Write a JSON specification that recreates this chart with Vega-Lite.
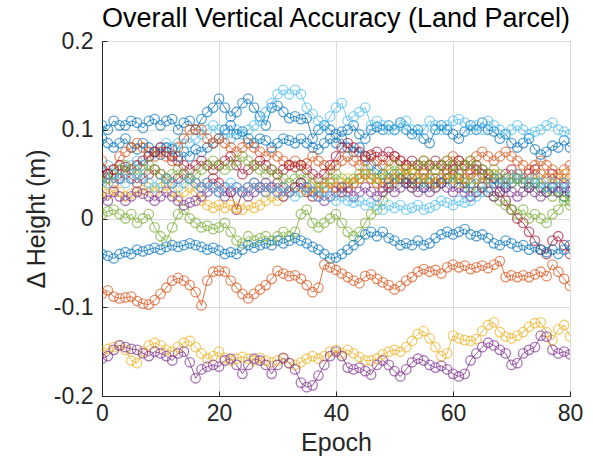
{
"$schema":"https://vega.github.io/schema/vega-lite/v6.json",
"width":468,"height":355,
"autosize":{"type":"none"},
"padding":{"left":102,"top":41,"right":23,"bottom":67},
"background":"white",
"title":{"text":"Overall Vertical Accuracy (Land Parcel)","fontSize":27,"font":"Liberation Sans","fontWeight":"normal","color":"#000000","offset":-3,"anchor":"middle"},
"config":{"view":{"stroke":"#262626","strokeWidth":1},
"axis":{"labelFont":"Liberation Sans","labelFontSize":23,"labelColor":"#262626","titleFont":"Liberation Sans","titleFontSize":25,"titleFontWeight":"normal","titleColor":"#262626","domainColor":"#262626","tickColor":"#262626","tickSize":-5,"gridColor":"#dcdcdc","gridWidth":1}},
"data":{"values":[
{"s":"B1","x":0,"y":0.105},{"s":"B1","x":1,"y":0.1},{"s":"B1","x":2,"y":0.11},{"s":"B1","x":3,"y":0.105},{"s":"B1","x":4,"y":0.105},{"s":"B1","x":5,"y":0.11},{"s":"B1","x":6,"y":0.108},{"s":"B1","x":7,"y":0.102},{"s":"B1","x":8,"y":0.11},{"s":"B1","x":9,"y":0.112},
{"s":"B1","x":10,"y":0.105},{"s":"B1","x":11,"y":0.11},{"s":"B1","x":12,"y":0.112},{"s":"B1","x":13,"y":0.1},{"s":"B1","x":14,"y":0.108},{"s":"B1","x":15,"y":0.11},{"s":"B1","x":16,"y":0.1},{"s":"B1","x":17,"y":0.112},{"s":"B1","x":18,"y":0.12},{"s":"B1","x":19,"y":0.125},
{"s":"B1","x":20,"y":0.135},{"s":"B1","x":21,"y":0.125},{"s":"B1","x":22,"y":0.115},{"s":"B1","x":23,"y":0.12},{"s":"B1","x":24,"y":0.13},{"s":"B1","x":25,"y":0.135},{"s":"B1","x":26,"y":0.125},{"s":"B1","x":27,"y":0.115},{"s":"B1","x":28,"y":0.105},{"s":"B1","x":29,"y":0.125},
{"s":"B1","x":30,"y":0.127},{"s":"B1","x":31,"y":0.12},{"s":"B1","x":32,"y":0.113},{"s":"B1","x":33,"y":0.115},{"s":"B1","x":34,"y":0.112},{"s":"B1","x":35,"y":0.113},{"s":"B1","x":36,"y":0.09},{"s":"B1","x":37,"y":0.1},{"s":"B1","x":38,"y":0.105},{"s":"B1","x":39,"y":0.1},
{"s":"B1","x":40,"y":0.095},{"s":"B1","x":41,"y":0.098},{"s":"B1","x":42,"y":0.1},{"s":"B1","x":43,"y":0.105},{"s":"B1","x":44,"y":0.095},{"s":"B1","x":45,"y":0.09},{"s":"B1","x":46,"y":0.1},{"s":"B1","x":47,"y":0.103},{"s":"B1","x":48,"y":0.1},{"s":"B1","x":49,"y":0.105},
{"s":"B1","x":50,"y":0.1},{"s":"B1","x":51,"y":0.108},{"s":"B1","x":52,"y":0.1},{"s":"B1","x":53,"y":0.095},{"s":"B1","x":54,"y":0.1},{"s":"B1","x":55,"y":0.09},{"s":"B1","x":56,"y":0.085},{"s":"B1","x":57,"y":0.1},{"s":"B1","x":58,"y":0.105},{"s":"B1","x":59,"y":0.1},
{"s":"B1","x":60,"y":0.095},{"s":"B1","x":61,"y":0.09},{"s":"B1","x":62,"y":0.098},{"s":"B1","x":63,"y":0.105},{"s":"B1","x":64,"y":0.1},{"s":"B1","x":65,"y":0.108},{"s":"B1","x":66,"y":0.1},{"s":"B1","x":67,"y":0.098},{"s":"B1","x":68,"y":0.09},{"s":"B1","x":69,"y":0.095},
{"s":"B1","x":70,"y":0.085},{"s":"B1","x":71,"y":0.08},{"s":"B1","x":72,"y":0.085},{"s":"B1","x":73,"y":0.09},{"s":"B1","x":74,"y":0.078},{"s":"B1","x":75,"y":0.072},{"s":"B1","x":76,"y":0.075},{"s":"B1","x":77,"y":0.082},{"s":"B1","x":78,"y":0.08},{"s":"B1","x":79,"y":0.088},{"s":"B1","x":80,"y":0.08},
{"s":"LB1","x":0,"y":0.055},{"s":"LB1","x":1,"y":0.06},{"s":"LB1","x":2,"y":0.05},{"s":"LB1","x":3,"y":0.045},{"s":"LB1","x":4,"y":0.055},{"s":"LB1","x":5,"y":0.06},{"s":"LB1","x":6,"y":0.065},{"s":"LB1","x":7,"y":0.06},{"s":"LB1","x":8,"y":0.07},{"s":"LB1","x":9,"y":0.075},
{"s":"LB1","x":10,"y":0.08},{"s":"LB1","x":11,"y":0.085},{"s":"LB1","x":12,"y":0.08},{"s":"LB1","x":13,"y":0.085},{"s":"LB1","x":14,"y":0.09},{"s":"LB1","x":15,"y":0.085},{"s":"LB1","x":16,"y":0.09},{"s":"LB1","x":17,"y":0.095},{"s":"LB1","x":18,"y":0.1},{"s":"LB1","x":19,"y":0.105},
{"s":"LB1","x":20,"y":0.1},{"s":"LB1","x":21,"y":0.095},{"s":"LB1","x":22,"y":0.09},{"s":"LB1","x":23,"y":0.1},{"s":"LB1","x":24,"y":0.095},{"s":"LB1","x":25,"y":0.1},{"s":"LB1","x":26,"y":0.105},{"s":"LB1","x":27,"y":0.11},{"s":"LB1","x":28,"y":0.12},{"s":"LB1","x":29,"y":0.13},
{"s":"LB1","x":30,"y":0.14},{"s":"LB1","x":31,"y":0.145},{"s":"LB1","x":32,"y":0.14},{"s":"LB1","x":33,"y":0.145},{"s":"LB1","x":34,"y":0.14},{"s":"LB1","x":35,"y":0.125},{"s":"LB1","x":36,"y":0.118},{"s":"LB1","x":37,"y":0.11},{"s":"LB1","x":38,"y":0.105},{"s":"LB1","x":39,"y":0.115},
{"s":"LB1","x":40,"y":0.125},{"s":"LB1","x":41,"y":0.13},{"s":"LB1","x":42,"y":0.11},{"s":"LB1","x":43,"y":0.115},{"s":"LB1","x":44,"y":0.12},{"s":"LB1","x":45,"y":0.125},{"s":"LB1","x":46,"y":0.105},{"s":"LB1","x":47,"y":0.11},{"s":"LB1","x":48,"y":0.105},{"s":"LB1","x":49,"y":0.1},
{"s":"LB1","x":50,"y":0.1},{"s":"LB1","x":51,"y":0.105},{"s":"LB1","x":52,"y":0.11},{"s":"LB1","x":53,"y":0.1},{"s":"LB1","x":54,"y":0.095},{"s":"LB1","x":55,"y":0.1},{"s":"LB1","x":56,"y":0.11},{"s":"LB1","x":57,"y":0.105},{"s":"LB1","x":58,"y":0.1},{"s":"LB1","x":59,"y":0.105},
{"s":"LB1","x":60,"y":0.11},{"s":"LB1","x":61,"y":0.112},{"s":"LB1","x":62,"y":0.108},{"s":"LB1","x":63,"y":0.1},{"s":"LB1","x":64,"y":0.105},{"s":"LB1","x":65,"y":0.1},{"s":"LB1","x":66,"y":0.11},{"s":"LB1","x":67,"y":0.105},{"s":"LB1","x":68,"y":0.1},{"s":"LB1","x":69,"y":0.095},
{"s":"LB1","x":70,"y":0.1},{"s":"LB1","x":71,"y":0.105},{"s":"LB1","x":72,"y":0.1},{"s":"LB1","x":73,"y":0.095},{"s":"LB1","x":74,"y":0.098},{"s":"LB1","x":75,"y":0.1},{"s":"LB1","x":76,"y":0.105},{"s":"LB1","x":77,"y":0.108},{"s":"LB1","x":78,"y":0.1},{"s":"LB1","x":79,"y":0.098},{"s":"LB1","x":80,"y":0.095},
{"s":"B2","x":0,"y":0.09},{"s":"B2","x":1,"y":0.085},{"s":"B2","x":2,"y":0.08},{"s":"B2","x":3,"y":0.085},{"s":"B2","x":4,"y":0.09},{"s":"B2","x":5,"y":0.08},{"s":"B2","x":6,"y":0.078},{"s":"B2","x":7,"y":0.085},{"s":"B2","x":8,"y":0.08},{"s":"B2","x":9,"y":0.075},
{"s":"B2","x":10,"y":0.072},{"s":"B2","x":11,"y":0.08},{"s":"B2","x":12,"y":0.078},{"s":"B2","x":13,"y":0.07},{"s":"B2","x":14,"y":0.075},{"s":"B2","x":15,"y":0.07},{"s":"B2","x":16,"y":0.078},{"s":"B2","x":17,"y":0.075},{"s":"B2","x":18,"y":0.08},{"s":"B2","x":19,"y":0.085},
{"s":"B2","x":20,"y":0.09},{"s":"B2","x":21,"y":0.1},{"s":"B2","x":22,"y":0.105},{"s":"B2","x":23,"y":0.095},{"s":"B2","x":24,"y":0.098},{"s":"B2","x":25,"y":0.09},{"s":"B2","x":26,"y":0.085},{"s":"B2","x":27,"y":0.09},{"s":"B2","x":28,"y":0.088},{"s":"B2","x":29,"y":0.08},
{"s":"B2","x":30,"y":0.085},{"s":"B2","x":31,"y":0.09},{"s":"B2","x":32,"y":0.088},{"s":"B2","x":33,"y":0.085},{"s":"B2","x":34,"y":0.09},{"s":"B2","x":35,"y":0.085},{"s":"B2","x":36,"y":0.08},{"s":"B2","x":37,"y":0.078},{"s":"B2","x":38,"y":0.085},{"s":"B2","x":39,"y":0.09},
{"s":"B2","x":40,"y":0.085},{"s":"B2","x":41,"y":0.09},{"s":"B2","x":42,"y":0.08},{"s":"B2","x":43,"y":0.075},{"s":"B2","x":44,"y":0.08},{"s":"B2","x":45,"y":0.07},{"s":"B2","x":46,"y":0.06},{"s":"B2","x":47,"y":0.055},{"s":"B2","x":48,"y":0.05},{"s":"B2","x":49,"y":0.045},
{"s":"B2","x":50,"y":0.05},{"s":"B2","x":51,"y":0.045},{"s":"B2","x":52,"y":0.04},{"s":"B2","x":53,"y":0.045},{"s":"B2","x":54,"y":0.04},{"s":"B2","x":55,"y":0.035},{"s":"B2","x":56,"y":0.04},{"s":"B2","x":57,"y":0.045},{"s":"B2","x":58,"y":0.04},{"s":"B2","x":59,"y":0.045},
{"s":"B2","x":60,"y":0.04},{"s":"B2","x":61,"y":0.045},{"s":"B2","x":62,"y":0.035},{"s":"B2","x":63,"y":0.04},{"s":"B2","x":64,"y":0.045},{"s":"B2","x":65,"y":0.04},{"s":"B2","x":66,"y":0.05},{"s":"B2","x":67,"y":0.045},{"s":"B2","x":68,"y":0.04},{"s":"B2","x":69,"y":0.035},
{"s":"B2","x":70,"y":0.04},{"s":"B2","x":71,"y":0.045},{"s":"B2","x":72,"y":0.04},{"s":"B2","x":73,"y":0.035},{"s":"B2","x":74,"y":0.04},{"s":"B2","x":75,"y":0.035},{"s":"B2","x":76,"y":0.03},{"s":"B2","x":77,"y":0.035},{"s":"B2","x":78,"y":0.03},{"s":"B2","x":79,"y":0.025},{"s":"B2","x":80,"y":0.03},
{"s":"O1","x":0,"y":0.065},{"s":"O1","x":1,"y":0.05},{"s":"O1","x":2,"y":0.055},{"s":"O1","x":3,"y":0.07},{"s":"O1","x":4,"y":0.075},{"s":"O1","x":5,"y":0.08},{"s":"O1","x":6,"y":0.085},{"s":"O1","x":7,"y":0.08},{"s":"O1","x":8,"y":0.075},{"s":"O1","x":9,"y":0.07},
{"s":"O1","x":10,"y":0.075},{"s":"O1","x":11,"y":0.07},{"s":"O1","x":12,"y":0.065},{"s":"O1","x":13,"y":0.08},{"s":"O1","x":14,"y":0.09},{"s":"O1","x":15,"y":0.1},{"s":"O1","x":16,"y":0.1},{"s":"O1","x":17,"y":0.1},{"s":"O1","x":18,"y":0.09},{"s":"O1","x":19,"y":0.085},
{"s":"O1","x":20,"y":0.09},{"s":"O1","x":21,"y":0.085},{"s":"O1","x":22,"y":0.08},{"s":"O1","x":23,"y":0.075},{"s":"O1","x":24,"y":0.08},{"s":"O1","x":25,"y":0.085},{"s":"O1","x":26,"y":0.08},{"s":"O1","x":27,"y":0.075},{"s":"O1","x":28,"y":0.07},{"s":"O1","x":29,"y":0.075},
{"s":"O1","x":30,"y":0.07},{"s":"O1","x":31,"y":0.065},{"s":"O1","x":32,"y":0.06},{"s":"O1","x":33,"y":0.065},{"s":"O1","x":34,"y":0.06},{"s":"O1","x":35,"y":0.062},{"s":"O1","x":36,"y":0.07},{"s":"O1","x":37,"y":0.065},{"s":"O1","x":38,"y":0.06},{"s":"O1","x":39,"y":0.055},
{"s":"O1","x":40,"y":0.06},{"s":"O1","x":41,"y":0.065},{"s":"O1","x":42,"y":0.07},{"s":"O1","x":43,"y":0.065},{"s":"O1","x":44,"y":0.06},{"s":"O1","x":45,"y":0.065},{"s":"O1","x":46,"y":0.07},{"s":"O1","x":47,"y":0.065},{"s":"O1","x":48,"y":0.06},{"s":"O1","x":49,"y":0.065},
{"s":"O1","x":50,"y":0.07},{"s":"O1","x":51,"y":0.065},{"s":"O1","x":52,"y":0.06},{"s":"O1","x":53,"y":0.055},{"s":"O1","x":54,"y":0.06},{"s":"O1","x":55,"y":0.065},{"s":"O1","x":56,"y":0.06},{"s":"O1","x":57,"y":0.055},{"s":"O1","x":58,"y":0.06},{"s":"O1","x":59,"y":0.065},
{"s":"O1","x":60,"y":0.07},{"s":"O1","x":61,"y":0.065},{"s":"O1","x":62,"y":0.06},{"s":"O1","x":63,"y":0.065},{"s":"O1","x":64,"y":0.07},{"s":"O1","x":65,"y":0.075},{"s":"O1","x":66,"y":0.07},{"s":"O1","x":67,"y":0.065},{"s":"O1","x":68,"y":0.07},{"s":"O1","x":69,"y":0.075},
{"s":"O1","x":70,"y":0.07},{"s":"O1","x":71,"y":0.065},{"s":"O1","x":72,"y":0.06},{"s":"O1","x":73,"y":0.055},{"s":"O1","x":74,"y":0.06},{"s":"O1","x":75,"y":0.065},{"s":"O1","x":76,"y":0.06},{"s":"O1","x":77,"y":0.055},{"s":"O1","x":78,"y":0.05},{"s":"O1","x":79,"y":0.055},{"s":"O1","x":80,"y":0.06},
{"s":"R1","x":0,"y":0.055},{"s":"R1","x":1,"y":0.05},{"s":"R1","x":2,"y":0.055},{"s":"R1","x":3,"y":0.06},{"s":"R1","x":4,"y":0.058},{"s":"R1","x":5,"y":0.055},{"s":"R1","x":6,"y":0.06},{"s":"R1","x":7,"y":0.065},{"s":"R1","x":8,"y":0.07},{"s":"R1","x":9,"y":0.075},
{"s":"R1","x":10,"y":0.08},{"s":"R1","x":11,"y":0.075},{"s":"R1","x":12,"y":0.07},{"s":"R1","x":13,"y":0.065},{"s":"R1","x":14,"y":0.06},{"s":"R1","x":15,"y":0.055},{"s":"R1","x":16,"y":0.06},{"s":"R1","x":17,"y":0.065},{"s":"R1","x":18,"y":0.06},{"s":"R1","x":19,"y":0.055},
{"s":"R1","x":20,"y":0.06},{"s":"R1","x":21,"y":0.065},{"s":"R1","x":22,"y":0.07},{"s":"R1","x":23,"y":0.06},{"s":"R1","x":24,"y":0.05},{"s":"R1","x":25,"y":0.055},{"s":"R1","x":26,"y":0.06},{"s":"R1","x":27,"y":0.065},{"s":"R1","x":28,"y":0.06},{"s":"R1","x":29,"y":0.055},
{"s":"R1","x":30,"y":0.05},{"s":"R1","x":31,"y":0.055},{"s":"R1","x":32,"y":0.06},{"s":"R1","x":33,"y":0.058},{"s":"R1","x":34,"y":0.06},{"s":"R1","x":35,"y":0.055},{"s":"R1","x":36,"y":0.05},{"s":"R1","x":37,"y":0.045},{"s":"R1","x":38,"y":0.05},{"s":"R1","x":39,"y":0.06},
{"s":"R1","x":40,"y":0.07},{"s":"R1","x":41,"y":0.08},{"s":"R1","x":42,"y":0.085},{"s":"R1","x":43,"y":0.08},{"s":"R1","x":44,"y":0.075},{"s":"R1","x":45,"y":0.07},{"s":"R1","x":46,"y":0.072},{"s":"R1","x":47,"y":0.075},{"s":"R1","x":48,"y":0.07},{"s":"R1","x":49,"y":0.075},
{"s":"R1","x":50,"y":0.07},{"s":"R1","x":51,"y":0.065},{"s":"R1","x":52,"y":0.06},{"s":"R1","x":53,"y":0.065},{"s":"R1","x":54,"y":0.06},{"s":"R1","x":55,"y":0.055},{"s":"R1","x":56,"y":0.06},{"s":"R1","x":57,"y":0.065},{"s":"R1","x":58,"y":0.06},{"s":"R1","x":59,"y":0.055},
{"s":"R1","x":60,"y":0.06},{"s":"R1","x":61,"y":0.065},{"s":"R1","x":62,"y":0.06},{"s":"R1","x":63,"y":0.055},{"s":"R1","x":64,"y":0.06},{"s":"R1","x":65,"y":0.055},{"s":"R1","x":66,"y":0.05},{"s":"R1","x":67,"y":0.04},{"s":"R1","x":68,"y":0.03},{"s":"R1","x":69,"y":0.02},
{"s":"R1","x":70,"y":0.01},{"s":"R1","x":71,"y":0.0},{"s":"R1","x":72,"y":-0.005},{"s":"R1","x":73,"y":-0.015},{"s":"R1","x":74,"y":-0.025},{"s":"R1","x":75,"y":-0.035},{"s":"R1","x":76,"y":-0.04},{"s":"R1","x":77,"y":-0.025},{"s":"R1","x":78,"y":-0.02},{"s":"R1","x":79,"y":-0.03},{"s":"R1","x":80,"y":-0.04},
{"s":"R2","x":0,"y":0.045},{"s":"R2","x":1,"y":0.05},{"s":"R2","x":2,"y":0.04},{"s":"R2","x":3,"y":0.045},{"s":"R2","x":4,"y":0.05},{"s":"R2","x":5,"y":0.045},{"s":"R2","x":6,"y":0.04},{"s":"R2","x":7,"y":0.045},{"s":"R2","x":8,"y":0.05},{"s":"R2","x":9,"y":0.055},
{"s":"R2","x":10,"y":0.05},{"s":"R2","x":11,"y":0.045},{"s":"R2","x":12,"y":0.04},{"s":"R2","x":13,"y":0.045},{"s":"R2","x":14,"y":0.05},{"s":"R2","x":15,"y":0.045},{"s":"R2","x":16,"y":0.04},{"s":"R2","x":17,"y":0.035},{"s":"R2","x":18,"y":0.04},{"s":"R2","x":19,"y":0.045},
{"s":"R2","x":20,"y":0.04},{"s":"R2","x":21,"y":0.035},{"s":"R2","x":22,"y":0.03},{"s":"R2","x":23,"y":0.01},{"s":"R2","x":24,"y":0.03},{"s":"R2","x":25,"y":0.035},{"s":"R2","x":26,"y":0.04},{"s":"R2","x":27,"y":0.035},{"s":"R2","x":28,"y":0.03},{"s":"R2","x":29,"y":0.035},
{"s":"R2","x":30,"y":0.04},{"s":"R2","x":31,"y":0.035},{"s":"R2","x":32,"y":0.03},{"s":"R2","x":33,"y":0.035},{"s":"R2","x":34,"y":0.04},{"s":"R2","x":35,"y":0.03},{"s":"R2","x":36,"y":0.025},{"s":"R2","x":37,"y":0.03},{"s":"R2","x":38,"y":0.035},{"s":"R2","x":39,"y":0.04},
{"s":"R2","x":40,"y":0.035},{"s":"R2","x":41,"y":0.03},{"s":"R2","x":42,"y":0.035},{"s":"R2","x":43,"y":0.04},{"s":"R2","x":44,"y":0.045},{"s":"R2","x":45,"y":0.05},{"s":"R2","x":46,"y":0.045},{"s":"R2","x":47,"y":0.04},{"s":"R2","x":48,"y":0.035},{"s":"R2","x":49,"y":0.04},
{"s":"R2","x":50,"y":0.045},{"s":"R2","x":51,"y":0.05},{"s":"R2","x":52,"y":0.045},{"s":"R2","x":53,"y":0.04},{"s":"R2","x":54,"y":0.045},{"s":"R2","x":55,"y":0.05},{"s":"R2","x":56,"y":0.045},{"s":"R2","x":57,"y":0.04},{"s":"R2","x":58,"y":0.045},{"s":"R2","x":59,"y":0.05},
{"s":"R2","x":60,"y":0.055},{"s":"R2","x":61,"y":0.05},{"s":"R2","x":62,"y":0.045},{"s":"R2","x":63,"y":0.05},{"s":"R2","x":64,"y":0.055},{"s":"R2","x":65,"y":0.05},{"s":"R2","x":66,"y":0.045},{"s":"R2","x":67,"y":0.04},{"s":"R2","x":68,"y":0.045},{"s":"R2","x":69,"y":0.05},
{"s":"R2","x":70,"y":0.055},{"s":"R2","x":71,"y":0.05},{"s":"R2","x":72,"y":0.045},{"s":"R2","x":73,"y":0.05},{"s":"R2","x":74,"y":0.055},{"s":"R2","x":75,"y":0.05},{"s":"R2","x":76,"y":0.045},{"s":"R2","x":77,"y":0.05},{"s":"R2","x":78,"y":0.045},{"s":"R2","x":79,"y":0.04},{"s":"R2","x":80,"y":0.045},
{"s":"G1","x":0,"y":0.04},{"s":"G1","x":1,"y":0.045},{"s":"G1","x":2,"y":0.05},{"s":"G1","x":3,"y":0.055},{"s":"G1","x":4,"y":0.06},{"s":"G1","x":5,"y":0.055},{"s":"G1","x":6,"y":0.05},{"s":"G1","x":7,"y":0.055},{"s":"G1","x":8,"y":0.06},{"s":"G1","x":9,"y":0.055},
{"s":"G1","x":10,"y":0.05},{"s":"G1","x":11,"y":0.045},{"s":"G1","x":12,"y":0.05},{"s":"G1","x":13,"y":0.055},{"s":"G1","x":14,"y":0.05},{"s":"G1","x":15,"y":0.045},{"s":"G1","x":16,"y":0.05},{"s":"G1","x":17,"y":0.055},{"s":"G1","x":18,"y":0.06},{"s":"G1","x":19,"y":0.065},
{"s":"G1","x":20,"y":0.06},{"s":"G1","x":21,"y":0.055},{"s":"G1","x":22,"y":0.06},{"s":"G1","x":23,"y":0.065},{"s":"G1","x":24,"y":0.07},{"s":"G1","x":25,"y":0.065},{"s":"G1","x":26,"y":0.06},{"s":"G1","x":27,"y":0.055},{"s":"G1","x":28,"y":0.05},{"s":"G1","x":29,"y":0.055},
{"s":"G1","x":30,"y":0.05},{"s":"G1","x":31,"y":0.045},{"s":"G1","x":32,"y":0.04},{"s":"G1","x":33,"y":0.045},{"s":"G1","x":34,"y":0.05},{"s":"G1","x":35,"y":0.045},{"s":"G1","x":36,"y":0.04},{"s":"G1","x":37,"y":0.035},{"s":"G1","x":38,"y":0.04},{"s":"G1","x":39,"y":0.045},
{"s":"G1","x":40,"y":0.05},{"s":"G1","x":41,"y":0.045},{"s":"G1","x":42,"y":0.04},{"s":"G1","x":43,"y":0.045},{"s":"G1","x":44,"y":0.05},{"s":"G1","x":45,"y":0.055},{"s":"G1","x":46,"y":0.05},{"s":"G1","x":47,"y":0.045},{"s":"G1","x":48,"y":0.05},{"s":"G1","x":49,"y":0.055},
{"s":"G1","x":50,"y":0.06},{"s":"G1","x":51,"y":0.055},{"s":"G1","x":52,"y":0.05},{"s":"G1","x":53,"y":0.055},{"s":"G1","x":54,"y":0.06},{"s":"G1","x":55,"y":0.065},{"s":"G1","x":56,"y":0.06},{"s":"G1","x":57,"y":0.055},{"s":"G1","x":58,"y":0.06},{"s":"G1","x":59,"y":0.065},
{"s":"G1","x":60,"y":0.06},{"s":"G1","x":61,"y":0.055},{"s":"G1","x":62,"y":0.06},{"s":"G1","x":63,"y":0.065},{"s":"G1","x":64,"y":0.06},{"s":"G1","x":65,"y":0.055},{"s":"G1","x":66,"y":0.05},{"s":"G1","x":67,"y":0.055},{"s":"G1","x":68,"y":0.05},{"s":"G1","x":69,"y":0.045},
{"s":"G1","x":70,"y":0.04},{"s":"G1","x":71,"y":0.045},{"s":"G1","x":72,"y":0.04},{"s":"G1","x":73,"y":0.035},{"s":"G1","x":74,"y":0.04},{"s":"G1","x":75,"y":0.035},{"s":"G1","x":76,"y":0.03},{"s":"G1","x":77,"y":0.025},{"s":"G1","x":78,"y":0.03},{"s":"G1","x":79,"y":0.025},{"s":"G1","x":80,"y":0.02},
{"s":"G2","x":0,"y":0.005},{"s":"G2","x":1,"y":0.008},{"s":"G2","x":2,"y":0.01},{"s":"G2","x":3,"y":0.005},{"s":"G2","x":4,"y":0.0},{"s":"G2","x":5,"y":0.005},{"s":"G2","x":6,"y":-0.005},{"s":"G2","x":7,"y":0.0},{"s":"G2","x":8,"y":0.005},{"s":"G2","x":9,"y":-0.01},
{"s":"G2","x":10,"y":-0.02},{"s":"G2","x":11,"y":-0.025},{"s":"G2","x":12,"y":-0.01},{"s":"G2","x":13,"y":0.005},{"s":"G2","x":14,"y":0.01},{"s":"G2","x":15,"y":0.0},{"s":"G2","x":16,"y":-0.005},{"s":"G2","x":17,"y":-0.01},{"s":"G2","x":18,"y":-0.008},{"s":"G2","x":19,"y":-0.012},
{"s":"G2","x":20,"y":-0.01},{"s":"G2","x":21,"y":-0.005},{"s":"G2","x":22,"y":-0.015},{"s":"G2","x":23,"y":-0.025},{"s":"G2","x":24,"y":-0.028},{"s":"G2","x":25,"y":-0.02},{"s":"G2","x":26,"y":-0.025},{"s":"G2","x":27,"y":-0.022},{"s":"G2","x":28,"y":-0.02},{"s":"G2","x":29,"y":-0.025},
{"s":"G2","x":30,"y":-0.02},{"s":"G2","x":31,"y":-0.015},{"s":"G2","x":32,"y":-0.02},{"s":"G2","x":33,"y":-0.015},{"s":"G2","x":34,"y":0.005},{"s":"G2","x":35,"y":0.01},{"s":"G2","x":36,"y":-0.005},{"s":"G2","x":37,"y":-0.01},{"s":"G2","x":38,"y":-0.005},{"s":"G2","x":39,"y":0.0},
{"s":"G2","x":40,"y":0.005},{"s":"G2","x":41,"y":-0.005},{"s":"G2","x":42,"y":-0.015},{"s":"G2","x":43,"y":-0.02},{"s":"G2","x":44,"y":-0.015},{"s":"G2","x":45,"y":-0.005},{"s":"G2","x":46,"y":0.005},{"s":"G2","x":47,"y":0.01},{"s":"G2","x":48,"y":0.02},{"s":"G2","x":49,"y":0.035},
{"s":"G2","x":50,"y":0.04},{"s":"G2","x":51,"y":0.045},{"s":"G2","x":52,"y":0.04},{"s":"G2","x":53,"y":0.035},{"s":"G2","x":54,"y":0.04},{"s":"G2","x":55,"y":0.045},{"s":"G2","x":56,"y":0.04},{"s":"G2","x":57,"y":0.035},{"s":"G2","x":58,"y":0.04},{"s":"G2","x":59,"y":0.045},
{"s":"G2","x":60,"y":0.05},{"s":"G2","x":61,"y":0.045},{"s":"G2","x":62,"y":0.04},{"s":"G2","x":63,"y":0.035},{"s":"G2","x":64,"y":0.03},{"s":"G2","x":65,"y":0.035},{"s":"G2","x":66,"y":0.03},{"s":"G2","x":67,"y":0.025},{"s":"G2","x":68,"y":0.02},{"s":"G2","x":69,"y":0.015},
{"s":"G2","x":70,"y":0.01},{"s":"G2","x":71,"y":0.005},{"s":"G2","x":72,"y":0.01},{"s":"G2","x":73,"y":0.0},{"s":"G2","x":74,"y":0.005},{"s":"G2","x":75,"y":0.0},{"s":"G2","x":76,"y":-0.005},{"s":"G2","x":77,"y":0.005},{"s":"G2","x":78,"y":0.01},{"s":"G2","x":79,"y":0.02},{"s":"G2","x":80,"y":0.015},
{"s":"Y1","x":0,"y":0.03},{"s":"Y1","x":1,"y":0.028},{"s":"Y1","x":2,"y":0.032},{"s":"Y1","x":3,"y":0.03},{"s":"Y1","x":4,"y":0.025},{"s":"Y1","x":5,"y":0.028},{"s":"Y1","x":6,"y":0.03},{"s":"Y1","x":7,"y":0.032},{"s":"Y1","x":8,"y":0.035},{"s":"Y1","x":9,"y":0.03},
{"s":"Y1","x":10,"y":0.035},{"s":"Y1","x":11,"y":0.038},{"s":"Y1","x":12,"y":0.03},{"s":"Y1","x":13,"y":0.025},{"s":"Y1","x":14,"y":0.03},{"s":"Y1","x":15,"y":0.035},{"s":"Y1","x":16,"y":0.03},{"s":"Y1","x":17,"y":0.02},{"s":"Y1","x":18,"y":0.015},{"s":"Y1","x":19,"y":0.012},
{"s":"Y1","x":20,"y":0.015},{"s":"Y1","x":21,"y":0.012},{"s":"Y1","x":22,"y":0.015},{"s":"Y1","x":23,"y":0.012},{"s":"Y1","x":24,"y":0.01},{"s":"Y1","x":25,"y":0.015},{"s":"Y1","x":26,"y":0.012},{"s":"Y1","x":27,"y":0.015},{"s":"Y1","x":28,"y":0.02},{"s":"Y1","x":29,"y":0.025},
{"s":"Y1","x":30,"y":0.02},{"s":"Y1","x":31,"y":0.025},{"s":"Y1","x":32,"y":0.03},{"s":"Y1","x":33,"y":0.035},{"s":"Y1","x":34,"y":0.03},{"s":"Y1","x":35,"y":0.032},{"s":"Y1","x":36,"y":0.035},{"s":"Y1","x":37,"y":0.03},{"s":"Y1","x":38,"y":0.035},{"s":"Y1","x":39,"y":0.04},
{"s":"Y1","x":40,"y":0.035},{"s":"Y1","x":41,"y":0.04},{"s":"Y1","x":42,"y":0.045},{"s":"Y1","x":43,"y":0.04},{"s":"Y1","x":44,"y":0.045},{"s":"Y1","x":45,"y":0.05},{"s":"Y1","x":46,"y":0.045},{"s":"Y1","x":47,"y":0.04},{"s":"Y1","x":48,"y":0.045},{"s":"Y1","x":49,"y":0.05},
{"s":"Y1","x":50,"y":0.045},{"s":"Y1","x":51,"y":0.05},{"s":"Y1","x":52,"y":0.055},{"s":"Y1","x":53,"y":0.05},{"s":"Y1","x":54,"y":0.045},{"s":"Y1","x":55,"y":0.05},{"s":"Y1","x":56,"y":0.045},{"s":"Y1","x":57,"y":0.04},{"s":"Y1","x":58,"y":0.045},{"s":"Y1","x":59,"y":0.05},
{"s":"Y1","x":60,"y":0.045},{"s":"Y1","x":61,"y":0.04},{"s":"Y1","x":62,"y":0.045},{"s":"Y1","x":63,"y":0.05},{"s":"Y1","x":64,"y":0.045},{"s":"Y1","x":65,"y":0.04},{"s":"Y1","x":66,"y":0.045},{"s":"Y1","x":67,"y":0.05},{"s":"Y1","x":68,"y":0.045},{"s":"Y1","x":69,"y":0.04},
{"s":"Y1","x":70,"y":0.045},{"s":"Y1","x":71,"y":0.05},{"s":"Y1","x":72,"y":0.045},{"s":"Y1","x":73,"y":0.04},{"s":"Y1","x":74,"y":0.045},{"s":"Y1","x":75,"y":0.05},{"s":"Y1","x":76,"y":0.045},{"s":"Y1","x":77,"y":0.04},{"s":"Y1","x":78,"y":0.045},{"s":"Y1","x":79,"y":0.05},{"s":"Y1","x":80,"y":0.045},
{"s":"P1","x":0,"y":0.025},{"s":"P1","x":1,"y":0.02},{"s":"P1","x":2,"y":0.03},{"s":"P1","x":3,"y":0.025},{"s":"P1","x":4,"y":0.02},{"s":"P1","x":5,"y":0.025},{"s":"P1","x":6,"y":0.03},{"s":"P1","x":7,"y":0.028},{"s":"P1","x":8,"y":0.025},{"s":"P1","x":9,"y":0.02},
{"s":"P1","x":10,"y":0.025},{"s":"P1","x":11,"y":0.03},{"s":"P1","x":12,"y":0.025},{"s":"P1","x":13,"y":0.02},{"s":"P1","x":14,"y":0.015},{"s":"P1","x":15,"y":0.018},{"s":"P1","x":16,"y":0.02},{"s":"P1","x":17,"y":0.025},{"s":"P1","x":18,"y":0.03},{"s":"P1","x":19,"y":0.035},
{"s":"P1","x":20,"y":0.03},{"s":"P1","x":21,"y":0.025},{"s":"P1","x":22,"y":0.03},{"s":"P1","x":23,"y":0.035},{"s":"P1","x":24,"y":0.03},{"s":"P1","x":25,"y":0.025},{"s":"P1","x":26,"y":0.03},{"s":"P1","x":27,"y":0.035},{"s":"P1","x":28,"y":0.04},{"s":"P1","x":29,"y":0.035},
{"s":"P1","x":30,"y":0.03},{"s":"P1","x":31,"y":0.025},{"s":"P1","x":32,"y":0.03},{"s":"P1","x":33,"y":0.035},{"s":"P1","x":34,"y":0.04},{"s":"P1","x":35,"y":0.035},{"s":"P1","x":36,"y":0.03},{"s":"P1","x":37,"y":0.025},{"s":"P1","x":38,"y":0.02},{"s":"P1","x":39,"y":0.025},
{"s":"P1","x":40,"y":0.03},{"s":"P1","x":41,"y":0.035},{"s":"P1","x":42,"y":0.03},{"s":"P1","x":43,"y":0.025},{"s":"P1","x":44,"y":0.03},{"s":"P1","x":45,"y":0.035},{"s":"P1","x":46,"y":0.03},{"s":"P1","x":47,"y":0.025},{"s":"P1","x":48,"y":0.03},{"s":"P1","x":49,"y":0.035},
{"s":"P1","x":50,"y":0.03},{"s":"P1","x":51,"y":0.035},{"s":"P1","x":52,"y":0.04},{"s":"P1","x":53,"y":0.035},{"s":"P1","x":54,"y":0.03},{"s":"P1","x":55,"y":0.035},{"s":"P1","x":56,"y":0.03},{"s":"P1","x":57,"y":0.035},{"s":"P1","x":58,"y":0.04},{"s":"P1","x":59,"y":0.035},
{"s":"P1","x":60,"y":0.03},{"s":"P1","x":61,"y":0.035},{"s":"P1","x":62,"y":0.03},{"s":"P1","x":63,"y":0.025},{"s":"P1","x":64,"y":0.03},{"s":"P1","x":65,"y":0.035},{"s":"P1","x":66,"y":0.03},{"s":"P1","x":67,"y":0.025},{"s":"P1","x":68,"y":0.03},{"s":"P1","x":69,"y":0.035},
{"s":"P1","x":70,"y":0.03},{"s":"P1","x":71,"y":0.025},{"s":"P1","x":72,"y":0.03},{"s":"P1","x":73,"y":0.035},{"s":"P1","x":74,"y":0.03},{"s":"P1","x":75,"y":0.025},{"s":"P1","x":76,"y":0.03},{"s":"P1","x":77,"y":0.035},{"s":"P1","x":78,"y":0.03},{"s":"P1","x":79,"y":0.035},{"s":"P1","x":80,"y":0.03},
{"s":"LB2","x":0,"y":0.045},{"s":"LB2","x":1,"y":0.04},{"s":"LB2","x":2,"y":0.05},{"s":"LB2","x":3,"y":0.045},{"s":"LB2","x":4,"y":0.04},{"s":"LB2","x":5,"y":0.045},{"s":"LB2","x":6,"y":0.05},{"s":"LB2","x":7,"y":0.045},{"s":"LB2","x":8,"y":0.04},{"s":"LB2","x":9,"y":0.035},
{"s":"LB2","x":10,"y":0.04},{"s":"LB2","x":11,"y":0.045},{"s":"LB2","x":12,"y":0.04},{"s":"LB2","x":13,"y":0.035},{"s":"LB2","x":14,"y":0.04},{"s":"LB2","x":15,"y":0.045},{"s":"LB2","x":16,"y":0.04},{"s":"LB2","x":17,"y":0.035},{"s":"LB2","x":18,"y":0.04},{"s":"LB2","x":19,"y":0.035},
{"s":"LB2","x":20,"y":0.03},{"s":"LB2","x":21,"y":0.035},{"s":"LB2","x":22,"y":0.04},{"s":"LB2","x":23,"y":0.035},{"s":"LB2","x":24,"y":0.03},{"s":"LB2","x":25,"y":0.035},{"s":"LB2","x":26,"y":0.04},{"s":"LB2","x":27,"y":0.035},{"s":"LB2","x":28,"y":0.03},{"s":"LB2","x":29,"y":0.035},
{"s":"LB2","x":30,"y":0.03},{"s":"LB2","x":31,"y":0.035},{"s":"LB2","x":32,"y":0.03},{"s":"LB2","x":33,"y":0.025},{"s":"LB2","x":34,"y":0.03},{"s":"LB2","x":35,"y":0.035},{"s":"LB2","x":36,"y":0.03},{"s":"LB2","x":37,"y":0.025},{"s":"LB2","x":38,"y":0.03},{"s":"LB2","x":39,"y":0.025},
{"s":"LB2","x":40,"y":0.02},{"s":"LB2","x":41,"y":0.025},{"s":"LB2","x":42,"y":0.02},{"s":"LB2","x":43,"y":0.018},{"s":"LB2","x":44,"y":0.02},{"s":"LB2","x":45,"y":0.015},{"s":"LB2","x":46,"y":0.018},{"s":"LB2","x":47,"y":0.015},{"s":"LB2","x":48,"y":0.01},{"s":"LB2","x":49,"y":0.015},
{"s":"LB2","x":50,"y":0.012},{"s":"LB2","x":51,"y":0.015},{"s":"LB2","x":52,"y":0.01},{"s":"LB2","x":53,"y":0.012},{"s":"LB2","x":54,"y":0.015},{"s":"LB2","x":55,"y":0.01},{"s":"LB2","x":56,"y":0.012},{"s":"LB2","x":57,"y":0.015},{"s":"LB2","x":58,"y":0.02},{"s":"LB2","x":59,"y":0.018},
{"s":"LB2","x":60,"y":0.015},{"s":"LB2","x":61,"y":0.02},{"s":"LB2","x":62,"y":0.018},{"s":"LB2","x":63,"y":0.02},{"s":"LB2","x":64,"y":0.025},{"s":"LB2","x":65,"y":0.03},{"s":"LB2","x":66,"y":0.035},{"s":"LB2","x":67,"y":0.04},{"s":"LB2","x":68,"y":0.045},{"s":"LB2","x":69,"y":0.04},
{"s":"LB2","x":70,"y":0.045},{"s":"LB2","x":71,"y":0.05},{"s":"LB2","x":72,"y":0.045},{"s":"LB2","x":73,"y":0.04},{"s":"LB2","x":74,"y":0.045},{"s":"LB2","x":75,"y":0.04},{"s":"LB2","x":76,"y":0.035},{"s":"LB2","x":77,"y":0.04},{"s":"LB2","x":78,"y":0.035},{"s":"LB2","x":79,"y":0.04},{"s":"LB2","x":80,"y":0.035},
{"s":"B3","x":0,"y":-0.04},{"s":"B3","x":1,"y":-0.042},{"s":"B3","x":2,"y":-0.045},{"s":"B3","x":3,"y":-0.04},{"s":"B3","x":4,"y":-0.038},{"s":"B3","x":5,"y":-0.04},{"s":"B3","x":6,"y":-0.035},{"s":"B3","x":7,"y":-0.037},{"s":"B3","x":8,"y":-0.035},{"s":"B3","x":9,"y":-0.033},
{"s":"B3","x":10,"y":-0.035},{"s":"B3","x":11,"y":-0.032},{"s":"B3","x":12,"y":-0.03},{"s":"B3","x":13,"y":-0.032},{"s":"B3","x":14,"y":-0.03},{"s":"B3","x":15,"y":-0.028},{"s":"B3","x":16,"y":-0.03},{"s":"B3","x":17,"y":-0.032},{"s":"B3","x":18,"y":-0.035},{"s":"B3","x":19,"y":-0.033},
{"s":"B3","x":20,"y":-0.036},{"s":"B3","x":21,"y":-0.04},{"s":"B3","x":22,"y":-0.038},{"s":"B3","x":23,"y":-0.04},{"s":"B3","x":24,"y":-0.035},{"s":"B3","x":25,"y":-0.03},{"s":"B3","x":26,"y":-0.033},{"s":"B3","x":27,"y":-0.03},{"s":"B3","x":28,"y":-0.028},{"s":"B3","x":29,"y":-0.03},
{"s":"B3","x":30,"y":-0.025},{"s":"B3","x":31,"y":-0.028},{"s":"B3","x":32,"y":-0.025},{"s":"B3","x":33,"y":-0.022},{"s":"B3","x":34,"y":-0.025},{"s":"B3","x":35,"y":-0.028},{"s":"B3","x":36,"y":-0.032},{"s":"B3","x":37,"y":-0.035},{"s":"B3","x":38,"y":-0.04},{"s":"B3","x":39,"y":-0.045},
{"s":"B3","x":40,"y":-0.044},{"s":"B3","x":41,"y":-0.04},{"s":"B3","x":42,"y":-0.035},{"s":"B3","x":43,"y":-0.03},{"s":"B3","x":44,"y":-0.025},{"s":"B3","x":45,"y":-0.018},{"s":"B3","x":46,"y":-0.015},{"s":"B3","x":47,"y":-0.02},{"s":"B3","x":48,"y":-0.015},{"s":"B3","x":49,"y":-0.022},
{"s":"B3","x":50,"y":-0.025},{"s":"B3","x":51,"y":-0.03},{"s":"B3","x":52,"y":-0.028},{"s":"B3","x":53,"y":-0.03},{"s":"B3","x":54,"y":-0.025},{"s":"B3","x":55,"y":-0.03},{"s":"B3","x":56,"y":-0.028},{"s":"B3","x":57,"y":-0.022},{"s":"B3","x":58,"y":-0.018},{"s":"B3","x":59,"y":-0.015},
{"s":"B3","x":60,"y":-0.018},{"s":"B3","x":61,"y":-0.015},{"s":"B3","x":62,"y":-0.012},{"s":"B3","x":63,"y":-0.018},{"s":"B3","x":64,"y":-0.02},{"s":"B3","x":65,"y":-0.018},{"s":"B3","x":66,"y":-0.022},{"s":"B3","x":67,"y":-0.028},{"s":"B3","x":68,"y":-0.03},{"s":"B3","x":69,"y":-0.025},
{"s":"B3","x":70,"y":-0.028},{"s":"B3","x":71,"y":-0.032},{"s":"B3","x":72,"y":-0.03},{"s":"B3","x":73,"y":-0.035},{"s":"B3","x":74,"y":-0.032},{"s":"B3","x":75,"y":-0.035},{"s":"B3","x":76,"y":-0.038},{"s":"B3","x":77,"y":-0.035},{"s":"B3","x":78,"y":-0.04},{"s":"B3","x":79,"y":-0.035},{"s":"B3","x":80,"y":-0.03},
{"s":"O2","x":0,"y":-0.085},{"s":"O2","x":1,"y":-0.081},{"s":"O2","x":2,"y":-0.088},{"s":"O2","x":3,"y":-0.09},{"s":"O2","x":4,"y":-0.089},{"s":"O2","x":5,"y":-0.088},{"s":"O2","x":6,"y":-0.093},{"s":"O2","x":7,"y":-0.096},{"s":"O2","x":8,"y":-0.097},{"s":"O2","x":9,"y":-0.092},
{"s":"O2","x":10,"y":-0.085},{"s":"O2","x":11,"y":-0.078},{"s":"O2","x":12,"y":-0.07},{"s":"O2","x":13,"y":-0.067},{"s":"O2","x":14,"y":-0.07},{"s":"O2","x":15,"y":-0.075},{"s":"O2","x":16,"y":-0.083},{"s":"O2","x":17,"y":-0.098},{"s":"O2","x":18,"y":-0.07},{"s":"O2","x":19,"y":-0.06},
{"s":"O2","x":20,"y":-0.059},{"s":"O2","x":21,"y":-0.06},{"s":"O2","x":22,"y":-0.07},{"s":"O2","x":23,"y":-0.078},{"s":"O2","x":24,"y":-0.085},{"s":"O2","x":25,"y":-0.09},{"s":"O2","x":26,"y":-0.085},{"s":"O2","x":27,"y":-0.08},{"s":"O2","x":28,"y":-0.075},{"s":"O2","x":29,"y":-0.068},
{"s":"O2","x":30,"y":-0.059},{"s":"O2","x":31,"y":-0.062},{"s":"O2","x":32,"y":-0.065},{"s":"O2","x":33,"y":-0.064},{"s":"O2","x":34,"y":-0.068},{"s":"O2","x":35,"y":-0.075},{"s":"O2","x":36,"y":-0.083},{"s":"O2","x":37,"y":-0.078},{"s":"O2","x":38,"y":-0.052},{"s":"O2","x":39,"y":-0.055},
{"s":"O2","x":40,"y":-0.058},{"s":"O2","x":41,"y":-0.062},{"s":"O2","x":42,"y":-0.066},{"s":"O2","x":43,"y":-0.07},{"s":"O2","x":44,"y":-0.073},{"s":"O2","x":45,"y":-0.065},{"s":"O2","x":46,"y":-0.063},{"s":"O2","x":47,"y":-0.068},{"s":"O2","x":48,"y":-0.072},{"s":"O2","x":49,"y":-0.075},
{"s":"O2","x":50,"y":-0.08},{"s":"O2","x":51,"y":-0.076},{"s":"O2","x":52,"y":-0.07},{"s":"O2","x":53,"y":-0.066},{"s":"O2","x":54,"y":-0.06},{"s":"O2","x":55,"y":-0.057},{"s":"O2","x":56,"y":-0.06},{"s":"O2","x":57,"y":-0.058},{"s":"O2","x":58,"y":-0.062},{"s":"O2","x":59,"y":-0.055},
{"s":"O2","x":60,"y":-0.052},{"s":"O2","x":61,"y":-0.055},{"s":"O2","x":62,"y":-0.053},{"s":"O2","x":63,"y":-0.057},{"s":"O2","x":64,"y":-0.055},{"s":"O2","x":65,"y":-0.053},{"s":"O2","x":66,"y":-0.056},{"s":"O2","x":67,"y":-0.052},{"s":"O2","x":68,"y":-0.048},{"s":"O2","x":69,"y":-0.066},
{"s":"O2","x":70,"y":-0.064},{"s":"O2","x":71,"y":-0.066},{"s":"O2","x":72,"y":-0.064},{"s":"O2","x":73,"y":-0.066},{"s":"O2","x":74,"y":-0.063},{"s":"O2","x":75,"y":-0.06},{"s":"O2","x":76,"y":-0.065},{"s":"O2","x":77,"y":-0.052},{"s":"O2","x":78,"y":-0.06},{"s":"O2","x":79,"y":-0.068},{"s":"O2","x":80,"y":-0.076},
{"s":"Y2","x":0,"y":-0.15},{"s":"Y2","x":1,"y":-0.147},{"s":"Y2","x":2,"y":-0.145},{"s":"Y2","x":3,"y":-0.143},{"s":"Y2","x":4,"y":-0.148},{"s":"Y2","x":5,"y":-0.16},{"s":"Y2","x":6,"y":-0.163},{"s":"Y2","x":7,"y":-0.15},{"s":"Y2","x":8,"y":-0.143},{"s":"Y2","x":9,"y":-0.14},
{"s":"Y2","x":10,"y":-0.143},{"s":"Y2","x":11,"y":-0.148},{"s":"Y2","x":12,"y":-0.15},{"s":"Y2","x":13,"y":-0.145},{"s":"Y2","x":14,"y":-0.14},{"s":"Y2","x":15,"y":-0.138},{"s":"Y2","x":16,"y":-0.145},{"s":"Y2","x":17,"y":-0.152},{"s":"Y2","x":18,"y":-0.158},{"s":"Y2","x":19,"y":-0.155},
{"s":"Y2","x":20,"y":-0.15},{"s":"Y2","x":21,"y":-0.157},{"s":"Y2","x":22,"y":-0.16},{"s":"Y2","x":23,"y":-0.158},{"s":"Y2","x":24,"y":-0.156},{"s":"Y2","x":25,"y":-0.158},{"s":"Y2","x":26,"y":-0.16},{"s":"Y2","x":27,"y":-0.157},{"s":"Y2","x":28,"y":-0.16},{"s":"Y2","x":29,"y":-0.162},
{"s":"Y2","x":30,"y":-0.16},{"s":"Y2","x":31,"y":-0.158},{"s":"Y2","x":32,"y":-0.163},{"s":"Y2","x":33,"y":-0.165},{"s":"Y2","x":34,"y":-0.162},{"s":"Y2","x":35,"y":-0.158},{"s":"Y2","x":36,"y":-0.155},{"s":"Y2","x":37,"y":-0.158},{"s":"Y2","x":38,"y":-0.155},{"s":"Y2","x":39,"y":-0.15},
{"s":"Y2","x":40,"y":-0.148},{"s":"Y2","x":41,"y":-0.152},{"s":"Y2","x":42,"y":-0.148},{"s":"Y2","x":43,"y":-0.152},{"s":"Y2","x":44,"y":-0.156},{"s":"Y2","x":45,"y":-0.16},{"s":"Y2","x":46,"y":-0.16},{"s":"Y2","x":47,"y":-0.158},{"s":"Y2","x":48,"y":-0.153},{"s":"Y2","x":49,"y":-0.15},
{"s":"Y2","x":50,"y":-0.148},{"s":"Y2","x":51,"y":-0.15},{"s":"Y2","x":52,"y":-0.145},{"s":"Y2","x":53,"y":-0.138},{"s":"Y2","x":54,"y":-0.13},{"s":"Y2","x":55,"y":-0.127},{"s":"Y2","x":56,"y":-0.135},{"s":"Y2","x":57,"y":-0.145},{"s":"Y2","x":58,"y":-0.155},{"s":"Y2","x":59,"y":-0.152},
{"s":"Y2","x":60,"y":-0.132},{"s":"Y2","x":61,"y":-0.135},{"s":"Y2","x":62,"y":-0.137},{"s":"Y2","x":63,"y":-0.138},{"s":"Y2","x":64,"y":-0.136},{"s":"Y2","x":65,"y":-0.127},{"s":"Y2","x":66,"y":-0.12},{"s":"Y2","x":67,"y":-0.117},{"s":"Y2","x":68,"y":-0.128},{"s":"Y2","x":69,"y":-0.133},
{"s":"Y2","x":70,"y":-0.135},{"s":"Y2","x":71,"y":-0.132},{"s":"Y2","x":72,"y":-0.128},{"s":"Y2","x":73,"y":-0.122},{"s":"Y2","x":74,"y":-0.118},{"s":"Y2","x":75,"y":-0.117},{"s":"Y2","x":76,"y":-0.128},{"s":"Y2","x":77,"y":-0.137},{"s":"Y2","x":78,"y":-0.125},{"s":"Y2","x":79,"y":-0.12},{"s":"Y2","x":80,"y":-0.133},
{"s":"P2","x":0,"y":-0.158},{"s":"P2","x":1,"y":-0.155},{"s":"P2","x":2,"y":-0.148},{"s":"P2","x":3,"y":-0.143},{"s":"P2","x":4,"y":-0.145},{"s":"P2","x":5,"y":-0.147},{"s":"P2","x":6,"y":-0.148},{"s":"P2","x":7,"y":-0.152},{"s":"P2","x":8,"y":-0.155},{"s":"P2","x":9,"y":-0.15},
{"s":"P2","x":10,"y":-0.152},{"s":"P2","x":11,"y":-0.155},{"s":"P2","x":12,"y":-0.16},{"s":"P2","x":13,"y":-0.152},{"s":"P2","x":14,"y":-0.15},{"s":"P2","x":15,"y":-0.162},{"s":"P2","x":16,"y":-0.18},{"s":"P2","x":17,"y":-0.17},{"s":"P2","x":18,"y":-0.167},{"s":"P2","x":19,"y":-0.165},
{"s":"P2","x":20,"y":-0.167},{"s":"P2","x":21,"y":-0.16},{"s":"P2","x":22,"y":-0.158},{"s":"P2","x":23,"y":-0.165},{"s":"P2","x":24,"y":-0.175},{"s":"P2","x":25,"y":-0.165},{"s":"P2","x":26,"y":-0.158},{"s":"P2","x":27,"y":-0.16},{"s":"P2","x":28,"y":-0.165},{"s":"P2","x":29,"y":-0.175},
{"s":"P2","x":30,"y":-0.165},{"s":"P2","x":31,"y":-0.157},{"s":"P2","x":32,"y":-0.163},{"s":"P2","x":33,"y":-0.17},{"s":"P2","x":34,"y":-0.185},{"s":"P2","x":35,"y":-0.19},{"s":"P2","x":36,"y":-0.188},{"s":"P2","x":37,"y":-0.177},{"s":"P2","x":38,"y":-0.165},{"s":"P2","x":39,"y":-0.155},
{"s":"P2","x":40,"y":-0.15},{"s":"P2","x":41,"y":-0.155},{"s":"P2","x":42,"y":-0.168},{"s":"P2","x":43,"y":-0.17},{"s":"P2","x":44,"y":-0.168},{"s":"P2","x":45,"y":-0.172},{"s":"P2","x":46,"y":-0.176},{"s":"P2","x":47,"y":-0.165},{"s":"P2","x":48,"y":-0.16},{"s":"P2","x":49,"y":-0.165},
{"s":"P2","x":50,"y":-0.172},{"s":"P2","x":51,"y":-0.178},{"s":"P2","x":52,"y":-0.17},{"s":"P2","x":53,"y":-0.162},{"s":"P2","x":54,"y":-0.158},{"s":"P2","x":55,"y":-0.16},{"s":"P2","x":56,"y":-0.165},{"s":"P2","x":57,"y":-0.168},{"s":"P2","x":58,"y":-0.166},{"s":"P2","x":59,"y":-0.17},
{"s":"P2","x":60,"y":-0.175},{"s":"P2","x":61,"y":-0.178},{"s":"P2","x":62,"y":-0.175},{"s":"P2","x":63,"y":-0.16},{"s":"P2","x":64,"y":-0.152},{"s":"P2","x":65,"y":-0.145},{"s":"P2","x":66,"y":-0.14},{"s":"P2","x":67,"y":-0.143},{"s":"P2","x":68,"y":-0.148},{"s":"P2","x":69,"y":-0.152},
{"s":"P2","x":70,"y":-0.165},{"s":"P2","x":71,"y":-0.163},{"s":"P2","x":72,"y":-0.152},{"s":"P2","x":73,"y":-0.148},{"s":"P2","x":74,"y":-0.145},{"s":"P2","x":75,"y":-0.132},{"s":"P2","x":76,"y":-0.133},{"s":"P2","x":77,"y":-0.148},{"s":"P2","x":78,"y":-0.152},{"s":"P2","x":79,"y":-0.15},{"s":"P2","x":80,"y":-0.153}
]},
"encoding":{
"x":{"field":"x","type":"quantitative","scale":{"domain":[0,80],"nice":false},"axis":{"values":[0,20,40,60,80],"title":"Epoch","grid":true,"labelPadding":11,"titlePadding":5,"labelFlush":false}},
"y":{"field":"y","type":"quantitative","scale":{"domain":[-0.2,0.2],"nice":false,"zero":false},"axis":{"values":[-0.2,-0.1,0,0.1,0.2],"title":"Δ Height (m)","grid":true,"labelPadding":14,"titlePadding":4,"labelFlush":false,"labelExpr":"datum.value == 0 ? '0' : (datum.value < 0 ? '-' + format(-datum.value, '.1f') : format(datum.value, '.1f'))"}},
"color":{"field":"s","type":"nominal","legend":null,"scale":{"domain":["B1","LB1","B2","O1","R1","R2","G1","G2","Y1","P1","LB2","B3","O2","Y2","P2"],"range":["#0072BD","#4DBEEE","#0072BD","#D95319","#A2142F","#A2142F","#77AC30","#77AC30","#EDB120","#7E2F8E","#4DBEEE","#0072BD","#D95319","#EDB120","#7E2F8E"]}}
},
"layer":[
{"mark":{"type":"line","strokeWidth":1,"opacity":0.8,"clip":true}},
{"mark":{"type":"point","shape":"circle","filled":false,"size":90,"strokeWidth":1.3,"opacity":0.65,"clip":true}}
]
}
